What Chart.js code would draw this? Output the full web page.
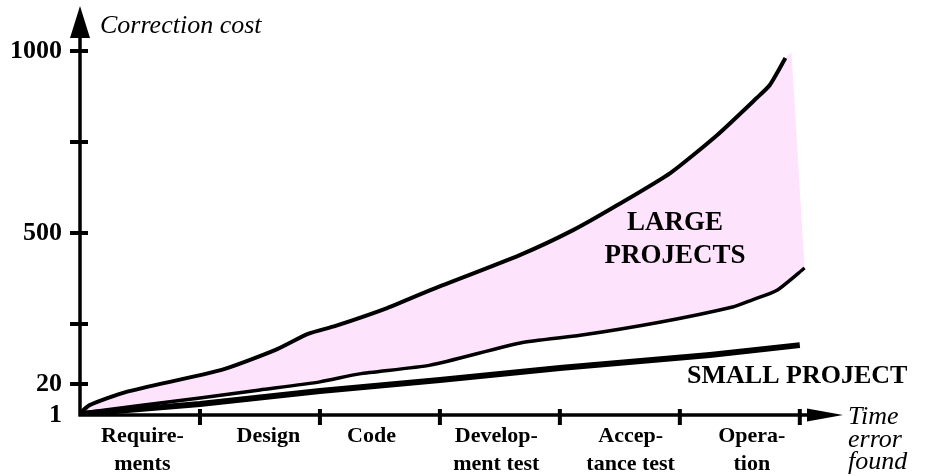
<!DOCTYPE html>
<html>
<head>
<meta charset="utf-8">
<script src="https://cdn.jsdelivr.net/npm/chart.js@4.4.1/dist/chart.umd.min.js"></script>
<style>
  html, body { margin: 0; padding: 0; background: #fff; }
  #wrap { width: 929px; height: 476px; }
</style>
</head>
<body>
<div id="wrap"><canvas id="costChart"></canvas></div>
<script>
// phases (x axis, one unit per phase)
const phases = [["Require-", "ments"], ["Design"], ["Code"], ["Develop-", "ment test"], ["Accep-", "tance test"], ["Opera-", "tion"]];
const phaseLabelAt = [0.52, 1.57, 2.43, 3.47, 4.59, 5.6];
const phaseTicks = [1, 2, 3, 4, 5, 6];

// y axis ticks (drawn positions) and their labels
const costTicks = [0, 85, 250, 500, 750, 1000];
const costLabels = ["1", "20", "", "500", "", "1000"];

// large projects, upper bound
const largeTopX = [0, 0.08, 0.38, 1.18, 1.63, 1.9, 2.13, 2.56, 2.92, 3.67, 4.11, 4.48, 4.92, 5.31, 5.64, 5.75, 5.88];
const largeTopY = [5, 27, 63, 124, 179, 223, 245, 294, 343, 440, 508, 577, 665, 769, 871, 907, 981];

// large projects, lower bound
const largeLowX = [0, 1, 1.5, 2, 2.33, 2.92, 3.67, 4.17, 4.83, 5.44, 5.6, 5.81, 6.04];
const largeLowY = [5, 47, 69, 91, 113, 137, 198, 219, 255, 297, 316, 343, 404];

// small project
const smallX = [0, 1, 2, 3, 4, 5.25, 6];
const smallY = [3, 30, 66, 96, 129, 165, 192];

// top right corner of the shaded band
const bandCornerX = 5.93;
const bandCornerY = 997;

const pts = (xs, ys) => xs.map((x, i) => ({ x: x, y: ys[i] }));

const bandPts = pts(largeTopX, largeTopY)
  .concat([{ x: bandCornerX, y: bandCornerY }])
  .concat(pts(largeLowX, largeLowY).reverse());

const serif = "'Liberation Serif', 'DejaVu Serif', serif";

const axesPlugin = {
  id: "axesPlugin",
  afterDatasetsDraw(chart) {
    const ctx = chart.ctx;
    const xs = chart.scales.x;
    const ys = chart.scales.y;
    const x0 = xs.getPixelForValue(0);
    const y0 = ys.getPixelForValue(0);
    const area = chart.chartArea;
    ctx.save();
    ctx.strokeStyle = "#000";
    ctx.fillStyle = "#000";

    // axis lines
    ctx.lineWidth = 3.5;
    ctx.beginPath();
    ctx.moveTo(x0, y0 + 1.5);
    ctx.lineTo(x0, area.top + 30);
    ctx.moveTo(x0 - 1.5, y0);
    ctx.lineTo(area.right - 34, y0);
    ctx.stroke();

    // arrow heads
    ctx.beginPath();
    ctx.moveTo(x0, area.top);
    ctx.lineTo(x0 - 10, area.top + 32);
    ctx.lineTo(x0 + 10, area.top + 32);
    ctx.closePath();
    ctx.fill();
    ctx.beginPath();
    ctx.moveTo(area.right, y0);
    ctx.lineTo(area.right - 36, y0 - 6.5);
    ctx.lineTo(area.right - 36, y0 + 6.5);
    ctx.closePath();
    ctx.fill();

    // tick marks crossing the axes
    ctx.lineWidth = 4;
    ctx.beginPath();
    costTicks.forEach(v => {
      if (v === 0) return;
      const y = ys.getPixelForValue(v);
      ctx.moveTo(x0 - 10, y);
      ctx.lineTo(x0 + 8, y);
    });
    phaseTicks.forEach(v => {
      const x = xs.getPixelForValue(v);
      ctx.moveTo(x, y0 - 6);
      ctx.lineTo(x, y0 + 10);
    });
    ctx.stroke();

    // texts
    ctx.textBaseline = "middle";
    ctx.textAlign = "left";
    ctx.font = "italic 26px " + serif;
    ctx.fillText("Correction cost", x0 + 20, area.top + 20);
    const tx = area.right + 5;
    ctx.fillText("Time", tx, y0 + 2);
    ctx.fillText("error", tx, y0 + 25);
    ctx.fillText("found", tx, y0 + 47);

    ctx.textAlign = "center";
    ctx.font = "bold 27px " + serif;
    ctx.fillText("LARGE", xs.getPixelForValue(4.96), ys.getPixelForValue(527));
    ctx.fillText("PROJECTS", xs.getPixelForValue(4.96), ys.getPixelForValue(437));
    ctx.textAlign = "left";
    ctx.font = "bold 26px " + serif;
    ctx.fillText("SMALL PROJECT", xs.getPixelForValue(5.06), ys.getPixelForValue(107));
    ctx.restore();
  }
};

new Chart(document.getElementById("costChart"), {
  type: "line",
  data: {
    datasets: [
      {
        data: bandPts,
        order: 10,
        fill: "shape",
        backgroundColor: "#fde3fc",
        borderWidth: 0,
        borderColor: "rgba(0,0,0,0)",
        pointRadius: 0,
        tension: 0
      },
      {
        data: pts(largeTopX, largeTopY),
        order: 1,
        borderColor: "#000",
        borderWidth: 4,
        pointRadius: 0,
        tension: 0.2,
        fill: false
      },
      {
        data: pts(largeLowX, largeLowY),
        order: 1,
        borderColor: "#000",
        borderWidth: 3.5,
        pointRadius: 0,
        tension: 0.2,
        fill: false
      },
      {
        data: pts(smallX, smallY),
        order: 1,
        borderColor: "#000",
        borderWidth: 6,
        pointRadius: 0,
        tension: 0,
        fill: false
      }
    ]
  },
  options: {
    responsive: true,
    maintainAspectRatio: false,
    animation: false,
    layout: { padding: { top: 6, right: 86, left: 0, bottom: 0 } },
    plugins: {
      legend: { display: false },
      tooltip: { enabled: false }
    },
    scales: {
      x: {
        type: "linear",
        min: 0,
        max: 6.36,
        grid: { display: false, drawTicks: false },
        border: { display: false },
        afterBuildTicks: scale => {
          scale.ticks = phaseLabelAt.map(v => ({ value: v }));
        },
        afterFit: scale => {
          scale.height = 61;
          scale.paddingLeft = 0;
          scale.paddingRight = 0;
        },
        ticks: {
          autoSkip: false,
          maxRotation: 0,
          padding: 8,
          color: "#000",
          font: { family: serif, size: 22, weight: "bold", lineHeight: 1.25 },
          callback: (v, i) => phases[i]
        }
      },
      y: {
        type: "linear",
        min: 0,
        max: 1124,
        grid: { display: false, drawTicks: false },
        border: { display: false },
        afterBuildTicks: scale => {
          scale.ticks = costTicks.map(v => ({ value: v }));
        },
        afterFit: scale => {
          scale.width = 80;
          scale.paddingTop = 0;
          scale.paddingBottom = 0;
        },
        ticks: {
          autoSkip: false,
          padding: 18,
          color: "#000",
          font: { family: serif, size: 26, weight: "bold" },
          callback: (v, i) => costLabels[i]
        }
      }
    }
  },
  plugins: [axesPlugin]
});
</script>
</body>
</html>
